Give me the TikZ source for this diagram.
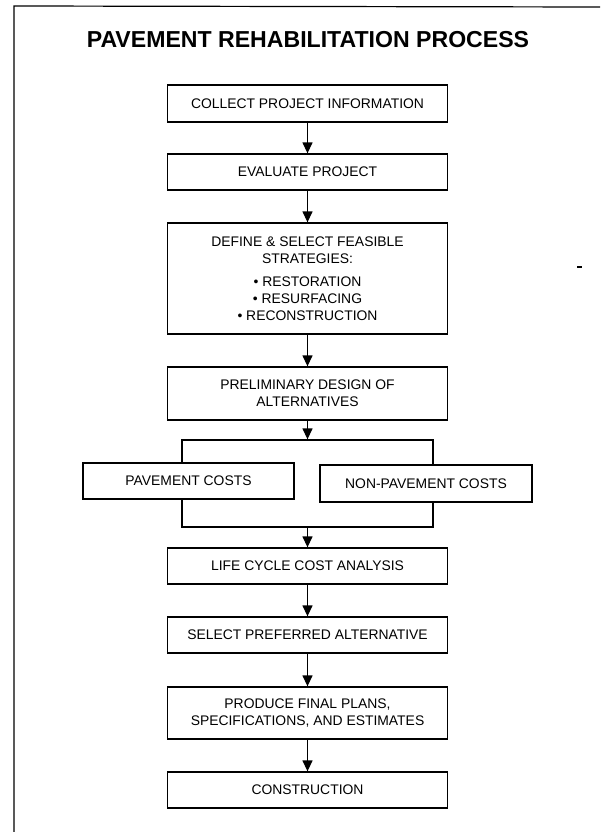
\documentclass[tikz,border=0pt]{standalone}
\usepackage{fontspec}
\setmainfont{Liberation Sans}
\usetikzlibrary{arrows.meta}
\begin{document}
\begin{tikzpicture}[x=1pt,y=-1pt,
  box/.style={draw, line width=1.3pt, fill=white, rectangle, inner sep=0pt, align=center,
    font=\fontsize{13.9}{16.7}\selectfont, minimum width=280pt},
  bracketbox/.style={draw, line width=1.3pt, rectangle, inner sep=0pt},
  arr/.style={line width=1.3pt, -{Triangle[length=11pt,width=10pt]}},
  titlestyle/.style={font=\bfseries\fontsize{23.1}{27}\selectfont, inner sep=0pt},
]
\useasboundingbox (0,0) rectangle (600,832);
\draw[line width=1.2pt] (14,832) -- (14,6) -- (600,7);
\draw[line width=1.5pt] (577,267) -- (582,267);

\node[titlestyle] (title) at (308,40) {PAVEMENT REHABILITATION PROCESS};

\node[box, minimum height=37pt] (collect) at (307.5,103.5) {COLLECT PROJECT INFORMATION};
\node[box, minimum height=36pt] (eval) at (307.5,172) {EVALUATE PROJECT};
\node[box, minimum height=111pt] (define) at (307.5,278.5) {DEFINE \& SELECT FEASIBLE\\STRATEGIES:\\[7pt]• RESTORATION\\• RESURFACING\\• RECONSTRUCTION};
\node[box, minimum height=53pt] (prelim) at (307.5,393.5) {PRELIMINARY DESIGN OF\\ALTERNATIVES};
\node[bracketbox, minimum width=251pt, minimum height=87pt] (split) at (307.5,483.5) {};
\node[box, minimum width=211pt, minimum height=36pt] (pave) at (188.5,481) {PAVEMENT COSTS};
\node[box, minimum width=212pt, minimum height=37pt] (nonpave) at (426,483.5) {NON-PAVEMENT COSTS};
\node[box, minimum height=36pt] (lcca) at (307.5,566) {LIFE CYCLE COST ANALYSIS};
\node[box, minimum height=36pt] (select) at (307.5,635) {SELECT PREFERRED ALTERNATIVE};
\node[box, minimum height=52pt] (produce) at (307.5,713) {PRODUCE FINAL PLANS,\\SPECIFICATIONS, AND ESTIMATES};
\node[box, minimum height=36pt] (constr) at (307.5,790) {CONSTRUCTION};

\draw[arr] (collect) -- (eval);
\draw[arr] (eval) -- (define);
\draw[arr] (define) -- (prelim);
\draw[arr] (prelim) -- (split.north);
\draw[arr] (split.south) -- (lcca);
\draw[arr] (lcca) -- (select);
\draw[arr] (select) -- (produce);
\draw[arr] (produce) -- (constr);
\end{tikzpicture}
\end{document}
